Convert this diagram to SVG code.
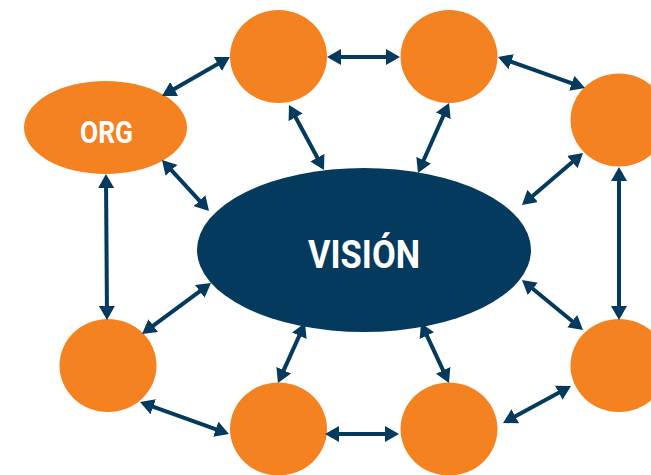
<svg xmlns="http://www.w3.org/2000/svg" width="651" height="475" viewBox="0 0 651 475">
<style>
.n{fill:#F58220}
.v{fill:#043A5E}
.c line{stroke:#043A5E;stroke-width:4;marker-start:url(#ah);marker-end:url(#ah)}
.t{fill:#fff;font-family:"Liberation Sans Narrow","Roboto","Liberation Sans",sans-serif;font-weight:bold;text-anchor:middle}
</style>
<defs>
<marker id="ah" markerUnits="userSpaceOnUse" viewBox="0 0 14 16" refX="10" refY="8" markerWidth="14" markerHeight="16" orient="auto-start-reverse">
<path d="M0,0 L14,8 L0,16 Z" fill="#043A5E"/>
</marker>
</defs>
<rect width="651" height="475" fill="#fff"/>
<g id="nodes">
<g id="top1"><ellipse class="n" cx="278.5" cy="56.5" rx="48.5" ry="46.5"/></g>
<g id="top2"><ellipse class="n" cx="449" cy="56.5" rx="48.5" ry="46.5"/></g>
<g id="rightUpper"><ellipse class="n" cx="619" cy="120" rx="48.5" ry="46.5"/></g>
<g id="org"><ellipse class="n" cx="105.5" cy="127.5" rx="81.5" ry="46.5"/><text class="t" x="106.5" y="143" font-size="31" textLength="53" lengthAdjust="spacingAndGlyphs">ORG</text></g>
<g id="vision"><ellipse class="v" cx="364" cy="250" rx="167" ry="82"/><text class="t" x="364" y="268" font-size="39" textLength="112" lengthAdjust="spacingAndGlyphs">VISIÓN</text></g>
<g id="leftLower"><ellipse class="n" cx="108" cy="365.5" rx="48.5" ry="46.5"/></g>
<g id="bottom1"><ellipse class="n" cx="278.5" cy="429" rx="48.5" ry="46.5"/></g>
<g id="bottom2"><ellipse class="n" cx="449" cy="429" rx="48.5" ry="46.5"/></g>
<g id="rightLower"><ellipse class="n" cx="619" cy="365.5" rx="48.5" ry="46.5"/></g>
</g>
<g id="connectors" class="c">
<line x1="165.5" y1="94" x2="226.5" y2="59"/>
<line x1="331" y1="57" x2="396" y2="57"/>
<line x1="501.8" y1="58.3" x2="581.2" y2="86.7"/>
<line x1="290.9" y1="108.5" x2="322.1" y2="166.5"/>
<line x1="447.4" y1="106.7" x2="419.6" y2="169.3"/>
<line x1="164.7" y1="162.9" x2="206.3" y2="208.1"/>
<line x1="580" y1="155.6" x2="525" y2="202.4"/>
<line x1="106" y1="178" x2="107" y2="316"/>
<line x1="619" y1="171" x2="619" y2="316"/>
<line x1="207.8" y1="285.4" x2="145.2" y2="331.6"/>
<line x1="143.8" y1="403.4" x2="225.2" y2="432.6"/>
<line x1="303.4" y1="326.6" x2="279.6" y2="379.4"/>
<line x1="422.7" y1="326.6" x2="447.3" y2="379.4"/>
<line x1="329" y1="434" x2="395" y2="434"/>
<line x1="506.5" y1="421.1" x2="567.5" y2="387.9"/>
<line x1="525.1" y1="282.5" x2="579.9" y2="327.5"/>
</g>
</svg>
